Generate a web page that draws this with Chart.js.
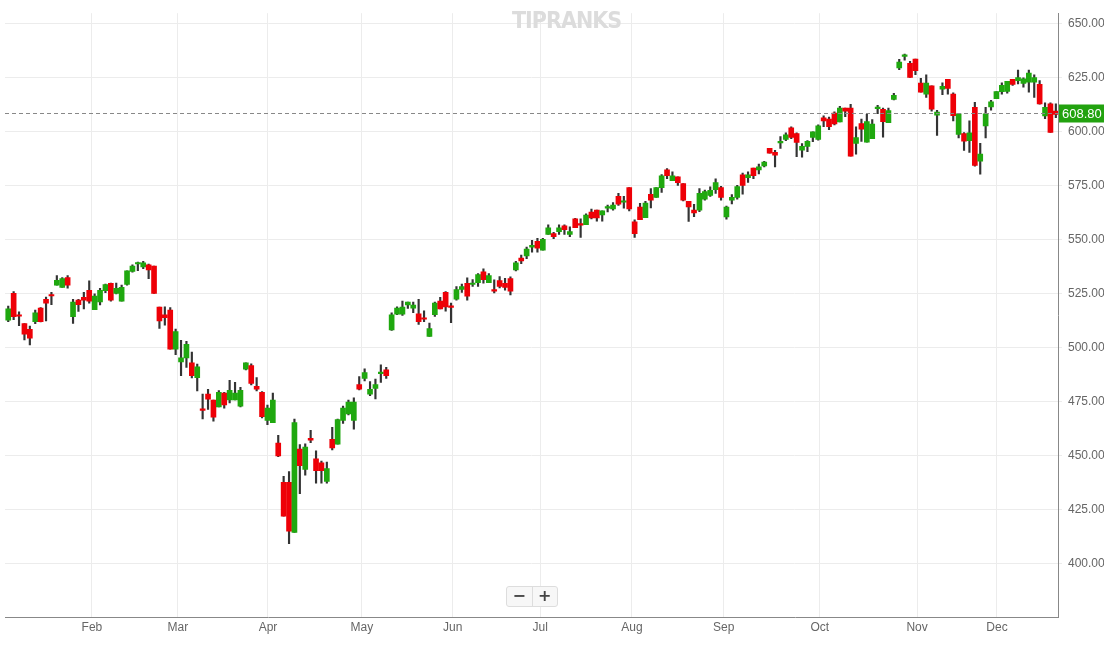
<!DOCTYPE html>
<html><head><meta charset="utf-8">
<script src="https://cdn.jsdelivr.net/npm/chart.js@4"></script>
<style>
html,body{margin:0;padding:0;background:#fff;}
#wrap{position:relative;width:1104px;height:649px;}
#wm{position:absolute;left:512px;top:7px;font:bold 23px "DejaVu Sans Condensed","DejaVu Sans",sans-serif;color:#dcdcdc;letter-spacing:-1px;}
#zoom{position:absolute;left:506px;top:586px;width:50px;height:19px;border:1px solid #ddd;border-radius:3px;background:#f7f7f7;display:flex;font:bold 16px "DejaVu Sans",sans-serif;color:#444;}
#zoom span{flex:1;text-align:center;line-height:18px;}
#zoom span:first-child{border-right:1px solid #ddd;}
</style></head><body>
<div id="wrap"><canvas id="c" width="1104" height="649"></canvas>
<div id="wm">TIPRANKS</div>
<div id="zoom"><span>−</span><span>+</span></div></div>
<script>
const opens=[512.8,525.2,514.7,511.2,508.5,512.1,518.4,522.5,524.2,529,528,532.5,514.4,522.1,523.4,526.6,517.7,521.2,526.4,529.8,525.2,521.6,529.3,535.4,538.8,537.5,538.4,537.9,518.9,515.3,517.5,499.4,493.5,495.3,493,486.2,471.7,478.5,475.8,472.6,479,475.8,475.8,472.9,490.1,491.7,482.1,479.4,466.3,465.3,455.8,437.7,437.7,414.5,453.1,443.6,458.1,448.6,446.7,438.1,457.6,455.4,466.3,469.4,466.3,483,485.8,478.5,481.2,488,489.8,
508.3,515.6,515.6,519.8,518.4,515.7,513.3,505.3,515.3,521.6,525.7,518.8,522.5,527,529.8,529.3,530.2,535.2,530.2,527,531.1,529.8,532,536.1,541.6,542.5,546.6,549.3,545.2,552.5,552.9,553.8,556.5,552.5,559.7,556.9,557,562.9,563.8,561.5,564.7,564.3,570.2,567.4,574.2,558.4,565.2,560.3,571.1,569.7,574.2,582.4,577.4,579.2,576.1,567.9,563.8,563.8,568.8,570.6,573.3,574.2,560.6,568.4,569.7,580.1,578.8,583.3,582.4,584.2,592.4,590.6,594.9,596.5,601.9,599.2,591.5,593.3,597.4,596.5,606.5,606,608.7,604.6,611,611,594.7,
603.9,595.3,596.9,610.8,610.5,604.3,615.1,629.7,635,631.8,633.7,622.6,617.5,621.4,607.8,619.8,624.4,617.5,598.9,599.2,596,611.4,586.5,602.8,611.6,615.4,618.7,618.8,624.4,623.8,622.5,623.1,623.1,622,607.4,613,609.6];
const highs=[519.3,526,516.6,511.2,510,517.5,518.6,523.5,525.7,533.4,532.5,533.5,522.4,522.4,525.7,531,525,527.5,529.5,530,530,529,535.7,538.4,539.7,540.1,538.8,537.9,518.9,519,518.6,508.7,503.5,503,498,492.5,478.5,480.8,475.8,480.2,479.4,484.9,484,481.7,493,492.6,486.2,479.7,473.4,479,459.4,440.5,442.7,467,455.1,455.5,461.7,452.3,447.5,447,463.1,467,473,475.8,476.8,486.6,490.3,484.3,485.5,492.1,490.9,
516.2,519,521.6,521.2,521.2,522.5,517.1,511.5,521.2,523.4,526,520.7,528.3,529.5,532.4,531.6,534.4,536.6,534.4,531.5,533,532.2,532.9,540.1,543,546.6,549.8,550.7,550.7,557,553.5,557,557,556,560,559.7,562,564.3,563.8,563.4,566.1,567.3,571.5,570.2,574.2,559.3,566.9,567.9,573.7,574.2,580.2,583,581.5,579.2,576.1,567.9,566.5,573.8,573,574.6,578.3,574.8,565.6,571,575.2,580.9,581.5,583.3,585.1,586.4,592.4,591.5,597.8,599.6,602.4,599.6,594.6,596,600.1,603.3,607.4,606.9,609.3,611.9,611,612.8,602.4,
606,608.1,605.7,612.3,611,611.1,617.9,633.6,636.1,632.7,633.7,624.8,626.4,621.4,610,622.7,624.4,618.1,608.4,599.7,605.1,613.7,594.7,611.4,614.6,618.7,622.7,623.4,624.4,628.6,625.1,628.6,626.4,623.8,613.5,613.5,613];
const lows=[512.1,513,510.3,503.6,501.3,511.2,512,512.5,520,529,528,527.6,511.3,516.8,518,520.7,517.7,519.8,525.5,521.6,525,521.6,529,535,535.7,536.7,532,525.2,509,510.5,499.4,496.8,487.1,490.9,486,480,467,471.4,466,472.6,472,474.5,475.8,472.6,489.8,482.8,480,467.5,464.4,465.3,449.5,422,409.3,414.5,432.4,441,456,437.3,437.3,437.3,452.7,455.4,465,468.9,462.3,480.5,484.6,477.8,476.3,484,485.8,
508,515.3,515,518.2,516.3,510.8,512.1,505.3,514.5,518,517,511.6,522,525.7,522,528.4,528.4,529.9,530.2,525.4,527.7,526.7,524.5,535.6,539,541.3,544.3,544.3,545.2,552.5,550.6,552.5,552.5,551.5,555.6,551.1,557,559.7,558.6,558.6,562.9,563.8,566,564.7,563.4,551.1,559.4,560.3,564.8,569.7,572,578.4,577.4,575.2,568,558.5,560.7,563,568.4,570.1,571.5,568.4,559.6,566.6,568.9,571.2,576.6,578.4,580.6,583.8,590.1,583.8,592.4,595.9,596.9,588.5,588.3,590.8,595.5,596.2,602.4,601.1,603.3,604.6,607.1,588.8,589.7,
595.6,595.3,596.9,608.4,597.6,604.3,614.8,628.8,633.2,625.2,626.5,618.4,616,609.6,598.4,617.2,617.5,605.1,597.2,591.4,590.5,584.1,580.4,597.2,610.1,615.4,617.5,618,621.6,622.2,620.7,618.4,616,612.8,606.1,599.8,606.6];
const closes=[518.1,514.4,514.6,506.3,504.5,516.2,512.1,520.7,524,531.3,532,529,521.2,520,522.1,521.6,523.9,526.6,529.3,522.1,527.5,528,535.7,537.9,538.9,539.3,536.1,525.2,512.5,513.9,499.4,507.5,495.3,501.6,487.1,491.2,471,476.2,467.8,479.4,473.5,480.3,479,480.3,493,483.5,480.8,468.1,472.1,475.8,449.9,422,415,465.3,445.4,454,457.2,443.1,443.1,444,453.6,466.7,472.1,474.9,474.9,480.8,488.5,480.8,483,488.1,487.1,
515.3,518.4,518.9,521.2,519.8,512.1,513.2,508.9,520.7,518,518.9,518.7,527,528.4,523.9,529.4,533.9,531.6,533.4,526.2,528.4,528,526.2,539.3,540.2,545.7,547.5,546.1,550.2,555.6,551.5,555.6,554.7,553.8,555.6,556.8,561.5,560.2,560.2,563.4,564.8,566.1,566.5,567.5,564.3,552.9,559.4,567,568.4,574.2,579.7,579.7,579.7,576.5,568.4,565.2,562.5,571.5,572.4,572.9,576.5,569.7,565.2,569.7,574.7,575.2,580.1,579.7,583.8,586,590.1,589.2,595,598.7,597.4,595.1,593.3,595.6,600.1,602.8,605.1,602.4,603.7,611,609.6,588.8,597.4,
601.3,604.8,603.6,610.9,604.8,609.9,616.9,632.3,635.1,625.2,628.4,618.4,622.6,610.5,609.2,621.1,620.2,607.5,608.4,595.7,599.6,584.5,589.7,608.4,613.9,618.7,621.6,623.4,622,625.2,624.6,627.3,625.2,613,611.4,599.8,608.1];
const monthLabels=['Feb','Mar','Apr','May','Jun','Jul','Aug','Sep','Oct','Nov','Dec'];
const monthPos=[15.5,31.4,48.1,65.5,82.3,98.5,115.5,132.5,150.3,168.3,183.1];
const yTicks=[400,425,450,475,500,525,550,575,600,625,650];
const lastPrice=608.80;

const GREEN='#1fa80f', RED='#ee0007', WICK='#333';
const idx=opens.map((_,i)=>i);
const bodies=idx.map(i=>({x:i,y:[opens[i],closes[i]]}));
const wicks=idx.map(i=>({x:i,y:[lows[i],highs[i]]}));
const bodyCol=idx.map(i=>closes[i]>=opens[i]?GREEN:RED);

const lastLine={id:'lastLine',afterDatasetsDraw(ch){
  const {ctx,chartArea:a,scales:{y}}=ch;const py=Math.round(y.getPixelForValue(lastPrice))+0.5;
  ctx.save();ctx.strokeStyle='#888';ctx.lineWidth=1;ctx.setLineDash([4,3]);
  ctx.beginPath();ctx.moveTo(a.left,py);ctx.lineTo(a.right,py);ctx.stroke();ctx.setLineDash([]);
  ctx.fillStyle='#22a20f';ctx.fillRect(a.right+1,py-9,46,18);
  ctx.fillStyle='#fff';ctx.font='13px "Liberation Sans",sans-serif';ctx.textBaseline='middle';ctx.textAlign='left';
  ctx.fillText(lastPrice.toFixed(2),a.right+4,py+1);ctx.restore();}};

new Chart(document.getElementById('c'),{
  type:'bar',
  data:{datasets:[
    {data:wicks,backgroundColor:WICK,barThickness:1.5,grouped:false,order:2},
    {data:bodies,backgroundColor:bodyCol,barThickness:5,grouped:false,order:1,minBarLength:1.5}
  ]},
  options:{responsive:false,animation:false,
    layout:{padding:{left:5,top:-11,right:0,bottom:11}},
    plugins:{legend:{display:false},tooltip:{enabled:false}},
    scales:{
      x:{type:'linear',min:-0.6,max:194.4,offset:false,
        afterBuildTicks(s){s.ticks=monthPos.map(v=>({value:v}));},
        ticks:{autoSkip:false,maxRotation:0,color:'#666',font:{size:12,family:'"Liberation Sans",sans-serif'},
          callback(v){const k=monthPos.indexOf(v);return k>=0?monthLabels[k]:'';}},
        grid:{color:'#ececec',drawTicks:false,offset:false},border:{color:'#888'}},
      y:{position:'right',min:375,max:655,
        afterBuildTicks(s){s.ticks=yTicks.map(v=>({value:v}));},
        afterFit(s){s.width=46;},
        ticks:{color:'#666',padding:6,font:{size:12,family:'"Liberation Sans",sans-serif'},callback:v=>v.toFixed(2)},
        grid:{color:'#ececec',drawTicks:true,tickLength:4},border:{color:'#888'}}
    }},
  plugins:[lastLine]
});
</script></body></html>
